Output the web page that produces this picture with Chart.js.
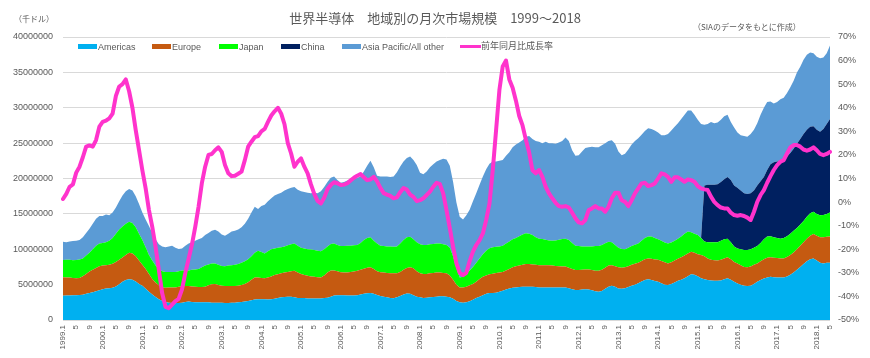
<!DOCTYPE html>
<html>
<head>
<meta charset="utf-8">
<script src="https://cdn.jsdelivr.net/npm/chart.js@4.4.1/dist/chart.umd.min.js"></script>
<style>
  html, body { margin: 0; padding: 0; background: #ffffff; }
  #wrap { position: relative; width: 870px; height: 358px; overflow: hidden; }
  #c { position: absolute; left: 0; top: 0; }
  .txt { position: absolute; white-space: nowrap; color: #595959; }
  .jp { font-family: "Noto Sans CJK JP", "Noto Sans", sans-serif; }
  .lat { font-family: "Liberation Sans", Arial, sans-serif; }
  .box { position: absolute; width: 19px; height: 5px; }
</style>
</head>
<body>
<div id="wrap">
  <canvas id="c" width="870" height="358"></canvas>
  <div class="txt jp" style="left:0;width:870px;text-align:center;top:10px;font-size:13px;line-height:15px;">世界半導体　地域別の月次市場規模　1999～2018</div>
  <div class="txt jp" style="left:14px;top:14px;font-size:8px;line-height:10px;">（千ドル）</div>
  <div class="txt jp" style="left:693px;top:22px;font-size:8px;line-height:10px;">（SIAのデータをもとに作成）</div>
  <div id="legend"></div>
</div>
<script>
// ---- categories ----
const startYear = 1999;
const endYear = 2018;
const endMonth = 5;
const categories = [];
for (let y = startYear; y <= endYear; y++) {
  for (let m = 1; m <= 12; m++) {
    if (y === endYear && m > endMonth) break;
    categories.push(m === 1 ? y + '.1' : String(m));
  }
}

// ---- series values (千ドル), monthly 1999.1 - 2018.5 ----
const americas = [
3440000,3460000,3480000,3500000,3500000,3520000,3580000,3700000,3820000,3920000,4050000,4200000,
4350000,4450000,4500000,4550000,4750000,5050000,5400000,5650000,5750000,5700000,5450000,5100000,
4850000,4400000,4000000,3600000,3250000,2950000,2700000,2550000,2450000,2400000,2400000,2400000,
2450000,2550000,2600000,2550000,2500000,2500000,2500000,2500000,2500000,2450000,2450000,2450000,
2450000,2400000,2400000,2450000,2450000,2500000,2550000,2600000,2700000,2800000,2900000,2950000,
2950000,2950000,2900000,2950000,3000000,3100000,3200000,3250000,3300000,3300000,3200000,3100000,
3100000,3100000,3050000,3050000,3050000,3050000,3050000,3100000,3150000,3300000,3450000,3500000,
3500000,3500000,3450000,3450000,3450000,3500000,3600000,3700000,3770000,3800000,3700000,3550000,
3400000,3300000,3200000,3100000,3070000,3200000,3400000,3600000,3750000,3700000,3500000,3300000,
3200000,3100000,3150000,3200000,3250000,3300000,3350000,3350000,3300000,3200000,3000000,2700000,
2500000,2450000,2500000,2650000,2850000,3100000,3300000,3500000,3700000,3800000,3800000,3850000,
4000000,4150000,4300000,4450000,4550000,4600000,4650000,4700000,4700000,4700000,4700000,4650000,
4600000,4600000,4600000,4600000,4600000,4600000,4600000,4600000,4600000,4500000,4350000,4250000,
4250000,4300000,4330000,4300000,4200000,4050000,4000000,4100000,4400000,4700000,4850000,4700000,
4450000,4400000,4500000,4650000,4850000,5000000,5200000,5450000,5650000,5750000,5650000,5500000,
5400000,5200000,5000000,4950000,5100000,5300000,5550000,5700000,5900000,6200000,6450000,6400000,
6200000,5900000,5750000,5650000,5600000,5550000,5550000,5600000,5750000,5900000,5700000,5400000,
5150000,5000000,4850000,4800000,4850000,5100000,5400000,5650000,5850000,6000000,6100000,6050000,
6000000,6000000,6000000,6150000,6400000,6700000,7100000,7500000,7900000,8300000,8600000,8700000,
8400000,8100000,8000000,8100000,8100000
];
const europe = [
2590000,2540000,2520000,2450000,2400000,2430000,2620000,2800000,3030000,3180000,3300000,3400000,
3350000,3300000,3300000,3400000,3450000,3450000,3450000,3550000,3750000,3700000,3550000,3300000,
2950000,2800000,2500000,2200000,2050000,1950000,1900000,2000000,2150000,2200000,2200000,2300000,
2300000,2250000,2200000,2200000,2200000,2150000,2150000,2200000,2400000,2600000,2650000,2500000,
2400000,2400000,2400000,2350000,2350000,2350000,2400000,2500000,2650000,2900000,3100000,3050000,
3000000,2950000,3100000,3200000,3350000,3350000,3400000,3450000,3500000,3600000,3750000,3600000,
3400000,3250000,3200000,3100000,3050000,3000000,2950000,3200000,3550000,3700000,3550000,3400000,
3250000,3200000,3250000,3350000,3400000,3450000,3500000,3550000,3630000,3650000,3500000,3350000,
3350000,3400000,3450000,3500000,3530000,3400000,3400000,3500000,3600000,3750000,3800000,3600000,
3400000,3400000,3350000,3400000,3400000,3400000,3350000,3300000,3300000,3100000,2700000,2300000,
2100000,2150000,2200000,2250000,2250000,2300000,2500000,2600000,2600000,2650000,2750000,2800000,
2700000,2650000,2700000,2750000,2900000,3000000,3050000,3100000,3200000,3200000,3150000,3150000,
3150000,3150000,3150000,3150000,3100000,3050000,3000000,2950000,2950000,2900000,2850000,2800000,
2800000,2800000,2820000,2850000,2850000,2920000,2970000,3000000,3000000,3000000,2900000,2900000,
3000000,3000000,2950000,2950000,2950000,2950000,2900000,2900000,2950000,2950000,3000000,3050000,
3100000,3150000,3150000,3050000,3050000,3100000,3100000,3160000,3200000,3200000,3200000,3100000,
3100000,3300000,3250000,3050000,2900000,2900000,2850000,2900000,2950000,2960000,2900000,2800000,
2850000,2750000,2650000,2650000,2700000,2700000,2600000,2650000,2750000,2800000,2760000,2750000,
2750000,2700000,2700000,2750000,2800000,2850000,2900000,3000000,3100000,3200000,3300000,3450000,
3500000,3600000,3700000,3650000,3700000
];
const japan = [
2450000,2500000,2500000,2500000,2580000,2600000,2500000,2600000,2650000,2900000,3150000,3200000,
3200000,3250000,3400000,3650000,4000000,4300000,4350000,4400000,4400000,4300000,4100000,3800000,
3500000,3100000,2700000,2600000,2400000,2300000,2300000,2250000,2200000,2200000,2200000,2200000,
2250000,2200000,2200000,2350000,2450000,2550000,2800000,3000000,2950000,2950000,2900000,2850000,
2800000,2800000,2900000,2950000,3000000,3050000,3150000,3200000,3250000,3300000,3500000,3800000,
3650000,3500000,3700000,3850000,3750000,3750000,3700000,3700000,3750000,3800000,3850000,3800000,
3700000,3750000,3750000,3800000,3800000,3750000,3700000,3700000,3700000,3750000,3800000,3700000,
3700000,3750000,3800000,3700000,3700000,3650000,3800000,4050000,4200000,4250000,4000000,3900000,
3750000,3750000,3750000,3800000,3750000,3800000,4000000,4200000,4350000,4300000,4100000,4100000,
4100000,4100000,4100000,4100000,4100000,4100000,4100000,4050000,4000000,3900000,3300000,2300000,
1400000,1500000,1800000,2100000,2400000,2700000,2900000,3200000,3500000,3700000,3750000,3700000,
3700000,3700000,3800000,3900000,3950000,4000000,4150000,4300000,4350000,4300000,4150000,3900000,
3750000,3700000,3600000,3500000,3500000,3600000,3750000,3900000,3950000,3900000,3700000,3450000,
3400000,3300000,3250000,3250000,3350000,3480000,3490000,3500000,3450000,3350000,3250000,3000000,
2750000,2650000,2550000,2600000,2650000,2700000,2700000,2850000,3000000,3100000,3150000,3050000,
2900000,2850000,2800000,2800000,2800000,2800000,2850000,2940000,3100000,3100000,2750000,2700000,
2700000,2400000,2100000,2300000,2500000,2550000,2600000,2700000,2700000,2640000,2400000,2200000,
2100000,2250000,2400000,2450000,2450000,2400000,2450000,2600000,2800000,3000000,2990000,2900000,
2850000,2800000,2900000,2950000,3000000,3050000,3000000,3000000,3000000,3100000,3200000,3150000,
3100000,3100000,3150000,3250000,3400000
];
const china = [
0,0,0,0,0,0,0,0,0,0,0,0,
0,0,0,0,0,0,0,0,0,0,0,0,
0,0,0,0,0,0,0,0,0,0,0,0,
0,0,0,0,0,0,0,0,0,0,0,0,
0,0,0,0,0,0,0,0,0,0,0,0,
0,0,0,0,0,0,0,0,0,0,0,0,
0,0,0,0,0,0,0,0,0,0,0,0,
0,0,0,0,0,0,0,0,0,0,0,0,
0,0,0,0,0,0,0,0,0,0,0,0,
0,0,0,0,0,0,0,0,0,0,0,0,
0,0,0,0,0,0,0,0,0,0,0,0,
0,0,0,0,0,0,0,0,0,0,0,0,
0,0,0,0,0,0,0,0,0,0,0,0,
0,0,0,0,0,0,0,0,0,0,0,0,
0,0,0,0,0,0,0,0,0,0,0,0,
0,0,0,0,0,0,0,0,0,0,0,0,
0,0,7900000,8100000,8100000,8100000,8200000,8300000,8500000,8700000,8800000,8600000,
8600000,8300000,8000000,7900000,7900000,8100000,8550000,8700000,8800000,9400000,10150000,10600000,
10800000,10900000,11000000,11250000,11400000,11600000,11900000,12100000,12300000,12300000,12200000,12100000,
11900000,11800000,12150000,12700000,13200000
];
const asiaPacific = [
2590000,2500000,2600000,2700000,2720000,2750000,3000000,3200000,3400000,3600000,3800000,3900000,
3800000,3900000,3600000,3600000,3700000,4000000,4400000,4600000,4600000,4600000,4400000,4200000,
3900000,3900000,4100000,3900000,3700000,3500000,3500000,3500000,3600000,3700000,3400000,3150000,
3100000,3500000,3800000,3900000,4050000,4200000,4150000,4300000,4450000,4600000,4750000,4700000,
4450000,4300000,4500000,4750000,4800000,4900000,5000000,5300000,5700000,6200000,6500000,5900000,
6500000,6900000,7100000,7200000,7500000,7600000,7700000,7900000,7950000,8000000,8000000,7900000,
8000000,8000000,8000000,7950000,8100000,8100000,8500000,8800000,9100000,9350000,9500000,9200000,
8950000,9050000,9200000,9300000,9350000,9500000,9400000,9700000,10200000,10800000,10400000,9600000,
9800000,9850000,9900000,9800000,9950000,10500000,10900000,11100000,11200000,11350000,11200000,10900000,
10100000,10000000,10400000,10900000,11250000,11600000,11800000,12100000,12100000,11600000,10500000,9300000,
8600000,8100000,8300000,8600000,9300000,9800000,10400000,11000000,11500000,11950000,12100000,12050000,
12100000,12100000,12400000,12600000,13000000,13200000,13250000,13300000,13650000,13800000,13600000,13600000,
13700000,13550000,13850000,13750000,13800000,13650000,13750000,13850000,14300000,14000000,13100000,12700000,
12850000,13400000,13900000,14000000,14100000,13950000,13940000,14100000,14150000,14250000,14400000,14300000,
13600000,13250000,13500000,13900000,14350000,14650000,14900000,15000000,15100000,15300000,15200000,15200000,
15100000,14900000,15150000,15500000,15850000,16100000,16300000,16600000,16800000,17100000,17200000,16800000,
16300000,16100000,8600000,8600000,8900000,8700000,8700000,8800000,8900000,8800000,8200000,8200000,
7800000,7800000,8100000,8100000,8400000,8600000,8800000,9400000,9800000,9600000,8900000,8300000,
8400000,8800000,8800000,9000000,9300000,9600000,10100000,10200000,10500000,10600000,10500000,10300000,
10300000,10400000,10100000,10000000,10400000
];
// 前年同月比成長率 (%)
const growth = [
1.3,3.5,6.5,7.5,12.5,15.0,19.0,23.5,24.0,23.5,26.3,32.0,
34.0,34.5,35.5,37.5,45.0,49.0,50.0,52.0,47.0,40.0,30.5,22.0,
13.5,5.8,-3.4,-10.5,-19.0,-28.8,-38.7,-44.4,-45.0,-43.5,-42.0,-41.0,
-37.0,-30.0,-24.0,-18.0,-10.5,-2.0,8.0,15.0,20.0,20.4,22.0,23.2,
21.3,15.7,12.2,11.0,11.2,12.0,12.9,17.8,23.5,25.6,27.5,28.0,
30.0,31.0,34.0,36.7,38.5,40.0,37.5,33.0,25.0,20.6,15.0,17.1,
18.5,15.0,12.2,7.5,3.5,0.5,-0.6,1.8,5.5,7.2,8.4,8.0,
7.2,7.4,8.0,9.2,10.3,11.2,11.9,10.5,9.3,9.6,10.7,8.8,
6.0,3.8,3.2,2.6,1.6,2.0,4.2,6.0,5.3,3.2,2.2,0.4,
0.8,1.6,3.0,4.4,6.5,8.2,7.6,3.7,-3.4,-11.0,-19.0,-26.0,
-30.0,-31.0,-30.0,-25.0,-21.0,-18.2,-16.1,-13.3,-7.6,-0.6,13.6,30.5,
47.5,57.5,60.0,52.0,48.5,43.0,36.5,32.5,26.5,21.0,13.5,12.2,
13.6,10.7,6.5,3.7,1.6,-0.3,-1.7,-2.0,-1.7,-2.3,-4.5,-6.9,
-8.6,-9.0,-7.6,-3.4,-2.7,-1.7,-2.7,-2.7,-4.1,-2.0,1.6,4.0,
4.0,0.8,0.1,-1.7,0.8,3.7,5.8,7.9,8.2,6.8,7.2,7.9,
10.0,12.2,11.7,10.7,8.6,10.5,10.5,9.6,8.6,9.6,9.3,8.6,
6.8,5.8,5.4,5.1,2.3,0.1,-1.3,-2.3,-2.7,-2.7,-4.5,-5.5,
-5.8,-5.5,-5.9,-6.6,-7.6,-4.1,0.1,3.0,5.1,8.2,11.0,13.6,
15.7,17.1,17.8,20.6,23.2,24.2,24.2,23.5,22.3,21.8,22.3,23.2,
22.0,20.4,19.9,20.4,21.3
];

const seriesNames = ['Americas', 'Europe', 'Japan', 'China', 'Asia Pacific/All other'];
const lineName = '前年同月比成長率';
const colors = ['#00B0F0', '#C55A11', '#00FF00', '#002060', '#5B9BD5'];
const lineColor = '#FF33CC';

// ---- legend (HTML text) ----
const legendPos = [
  { box: 78, text: 98 }, { box: 152, text: 172 }, { box: 219, text: 239 },
  { box: 281, text: 301 }, { box: 342, text: 362 }
];
const leg = document.getElementById('legend');
seriesNames.forEach((n, k) => {
  const b = document.createElement('div');
  b.className = 'box';
  b.style.left = legendPos[k].box + 'px';
  b.style.top = '44px';
  b.style.background = colors[k];
  leg.appendChild(b);
  const t = document.createElement('div');
  t.className = 'txt lat';
  t.style.left = legendPos[k].text + 'px';
  t.style.top = '41px';
  t.style.fontSize = '9px';
  t.style.lineHeight = '12px';
  t.textContent = n;
  leg.appendChild(t);
});
{
  const b = document.createElement('div');
  b.className = 'box';
  b.style.left = '460px';
  b.style.top = '45px';
  b.style.width = '21px';
  b.style.height = '3px';
  b.style.background = lineColor;
  leg.appendChild(b);
  const t = document.createElement('div');
  t.className = 'txt jp';
  t.style.left = '481px';
  t.style.top = '40px';
  t.style.fontSize = '9px';
  t.style.lineHeight = '12px';
  t.textContent = lineName;
  leg.appendChild(t);
}

// ---- chart ----
Chart.defaults.font.family = '"Liberation Sans", Arial, sans-serif';
Chart.defaults.color = '#595959';

const areaData = [americas, europe, japan, china, asiaPacific];
const datasets = areaData.map((d, k) => ({
  type: 'line',
  label: seriesNames[k],
  data: d,
  yAxisID: 'y',
  backgroundColor: colors[k],
  borderColor: colors[k],
  borderWidth: 0,
  pointRadius: 0,
  fill: k === 0 ? 'origin' : '-1',
  tension: 0,
  order: 1
}));
datasets.push({
  type: 'line',
  label: lineName,
  data: growth,
  yAxisID: 'y1',
  borderColor: lineColor,
  backgroundColor: lineColor,
  borderWidth: 4,
  borderJoinStyle: 'round',
  borderCapStyle: 'round',
  pointRadius: 0,
  fill: false,
  tension: 0,
  order: 0
});

new Chart(document.getElementById('c'), {
  type: 'line',
  data: { labels: categories, datasets },
  options: {
    responsive: false,
    animation: false,
    devicePixelRatio: 1,
    layout: { padding: { top: 37, left: 0, right: 0, bottom: 0 } },
    plugins: { legend: { display: false }, tooltip: { enabled: false }, title: { display: false } },
    scales: {
      x: {
        type: 'category',
        offset: false,
        grid: { display: false, drawTicks: false },
        border: { display: false },
        ticks: {
          autoSkip: false,
          minRotation: 90,
          maxRotation: 90,
          padding: 5,
          font: { size: 8 },
          callback: function (v, i) {
            const m = (i % 12) + 1;
            return (m % 4 === 1) ? categories[i] : '';
          }
        },
        afterFit: s => { s.height = 38; }
      },
      y: {
        position: 'left',
        stacked: true,
        min: 0,
        max: 40000000,
        grid: { color: '#D9D9D9', lineWidth: 1, drawTicks: false },
        border: { display: false },
        ticks: {
          stepSize: 5000000,
          padding: 10,
          font: { size: 9 },
          callback: v => String(v)
        },
        afterFit: s => { s.width = 63; }
      },
      y1: {
        position: 'right',
        stacked: false,
        min: -50,
        max: 70,
        grid: { display: false, drawTicks: false },
        border: { display: false },
        ticks: {
          stepSize: 10,
          padding: 8,
          font: { size: 9 },
          callback: v => v + '%'
        },
        afterFit: s => { s.width = 40; }
      }
    }
  }
});
</script>
</body>
</html>
